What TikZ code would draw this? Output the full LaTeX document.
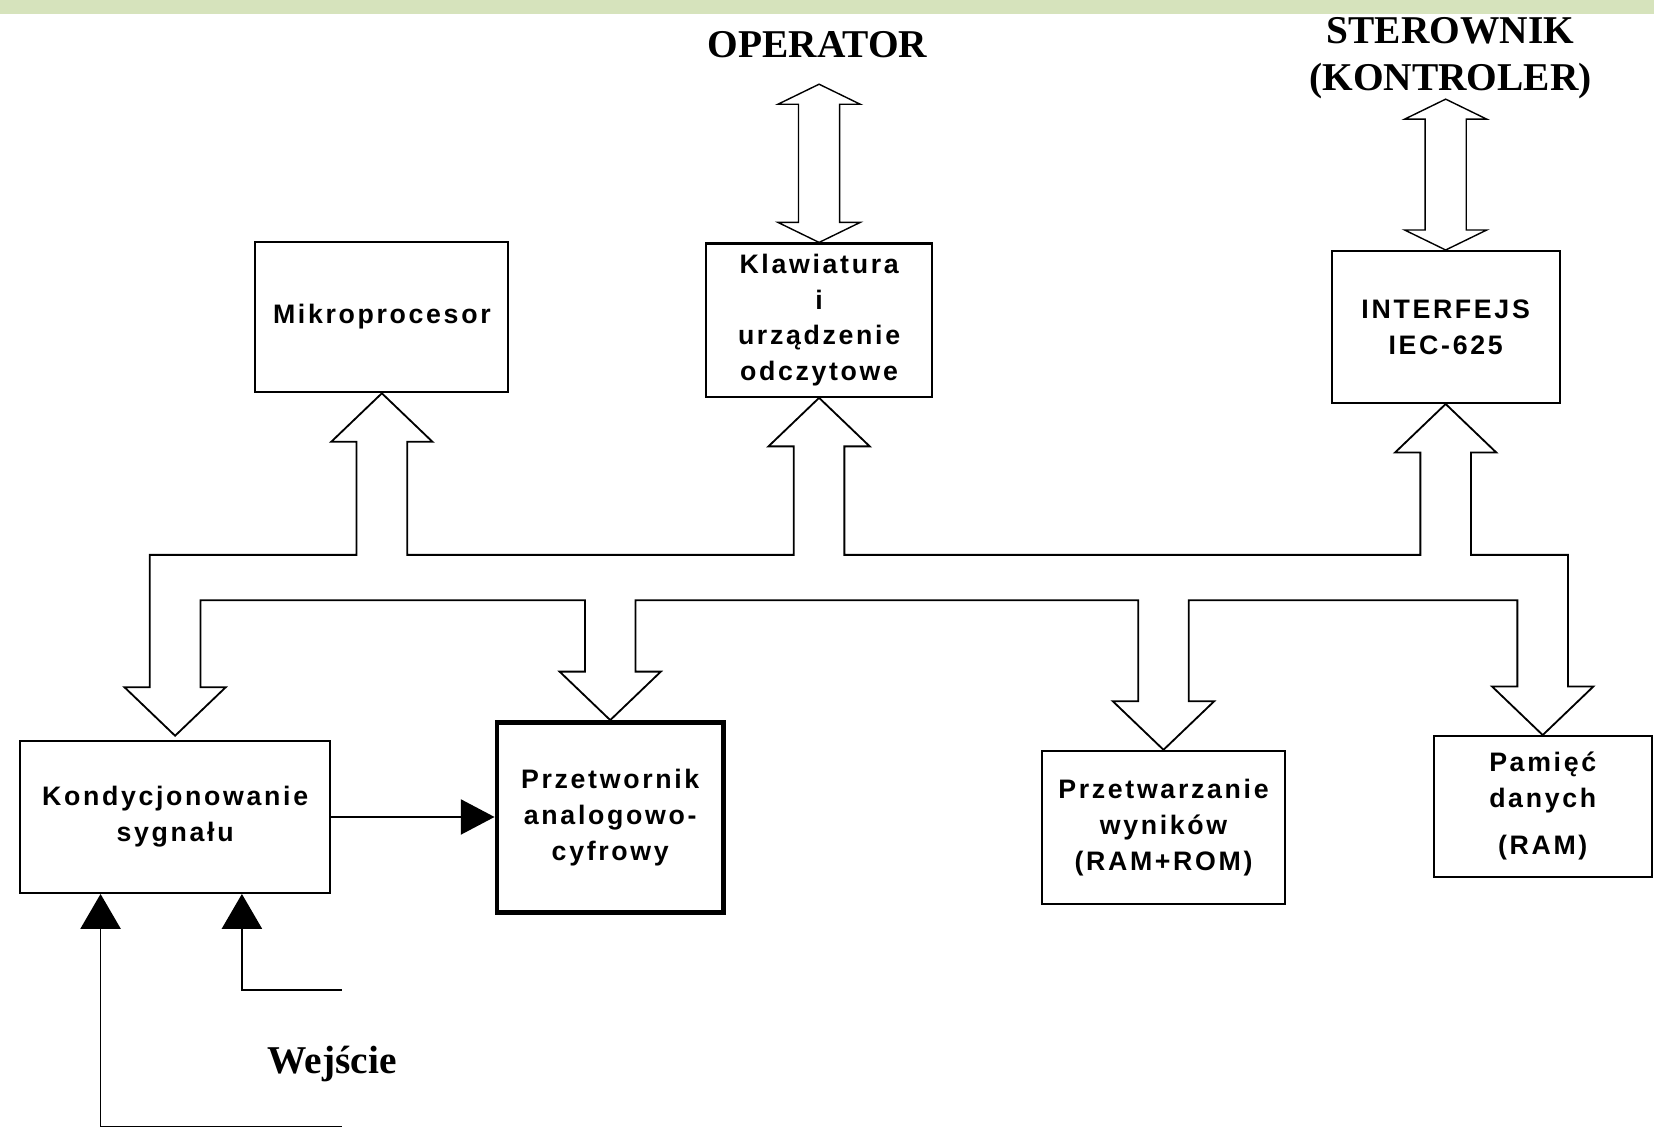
\documentclass[tikz,border=0pt]{standalone}
\usepackage{fontspec}
\usetikzlibrary{calc,arrows.meta}
\newfontfamily\boxfont{Liberation Sans}[LetterSpace=10]
\newfontfamily\titlefont{Liberation Serif}
\definecolor{bandgreen}{RGB}{214,227,188}

\tikzset{
  blok/.style={draw, line width=1.5pt, align=center, inner sep=0pt,
    font=\boxfont\bfseries\fontsize{19}{25.5}\selectfont},
  tytul/.style={align=center, inner sep=0pt,
    font=\titlefont\bfseries\fontsize{28}{33}\selectfont},
  szyna/.style={draw, line width=1.3pt, line join=miter},
  dwustr/.style={draw, line width=1pt, line join=miter},
  wejscie/.style={line width=1.2pt, -{Triangle[length=24.75pt,width=28.5pt]}}
}

% #1 = lower tip, #2 = upper tip
\newcommand{\dblarrow}[2]{%
  \draw[dwustr] (#1) -- ++(39,-19) -- ++(-19.5,0) -- ($(#2)+(19.5,19)$) -- ++(19.5,0) -- (#2)
    -- ++(-39,19) -- ++(19.5,0) -- ($(#1)+(-19.5,-19)$) -- ++(-19.5,0) -- cycle ;}

\begin{document}
\begin{tikzpicture}[x=0.75pt,y=0.75pt,yscale=-1,xscale=1]
\useasboundingbox (0,0) rectangle (1568,1073);
%Shape: band at the top
\fill[bandgreen] (0,0) rectangle (1568,13);

% Text Node
\node[tytul] (oper) at (775,42) {OPERATOR};
\node[tytul] (ster) at (1375,55) {STEROWNIK\\(KONTROLER)};
\node[tytul] (wej) at (315,1009) {Wejście};

%Shape: Rectangle
\node[blok, minimum width=180pt, minimum height=107pt] (mikro) at (362,300.5) {Mikroprocesor};
\node[blok, minimum width=161pt, minimum height=109pt] (klaw) at (776.5,303.5) {Klawiatura\\i\\urządzenie\\odczytowe};
\node[blok, minimum width=162pt, minimum height=108pt] (intf) at (1370.5,310) {INTERFEJS\\IEC-625};
\node[blok, minimum width=220pt, minimum height=108pt] (kond) at (166,774.5) {Kondycjonowanie\\sygnału};
\node[blok, line width=3.5pt, minimum width=161pt, minimum height=135pt] (adc) at (578.5,775) {Przetwornik\\analogowo-\\cyfrowy};
\node[blok, minimum width=173pt, minimum height=109pt] (wyn) at (1103,784.5) {Przetwarzanie\\wyników\\(RAM+ROM)};
\node[blok, minimum width=155pt, minimum height=100pt] (pam) at (1462.5,764.5) {Pamięć\\danych\\[8pt](RAM)};

%Shape: bus (outer and inner edge)
\coordinate (busO) at (0,526);
\coordinate (busI) at (0,569);
\foreach \n in {mikro,klaw,intf} {
  \coordinate (\n-l) at ($(\n.south)+(-24,0)$);
  \coordinate (\n-r) at ($(\n.south)+(24,0)$);
}
\foreach \n in {kond,adc,wyn,pam} {
  \coordinate (\n-l) at ($(\n.north)+(-24,0)$);
  \coordinate (\n-r) at ($(\n.north)+(24,0)$);
}
\coordinate (kondTip) at ($(kond.north)+(0,-4)$);
\draw[szyna] (mikro.south) -- ++(48,46) -- ++(-24,0) -- (mikro-r |- busO) -- (klaw-l |- busO)
  -- ($(klaw-l)+(0,46)$) -- ++(-24,0) -- (klaw.south) -- ++(48,46) -- ++(-24,0)
  -- (klaw-r |- busO) -- (intf-l |- busO)
  -- ($(intf-l)+(0,46)$) -- ++(-24,0) -- (intf.south) -- ++(48,46) -- ++(-24,0)
  -- (intf-r |- busO) -- (pam-r |- busO)
  -- ($(pam-r)+(0,-46)$) -- ++(24,0) -- (pam.north) -- ++(-48,-46) -- ++(24,0)
  -- (pam-l |- busI) -- (wyn-r |- busI)
  -- ($(wyn-r)+(0,-46)$) -- ++(24,0) -- (wyn.north) -- ++(-48,-46) -- ++(24,0)
  -- (wyn-l |- busI) -- (adc-r |- busI)
  -- ($(adc-r)+(0,-46)$) -- ++(24,0) -- (adc.north) -- ++(-48,-46) -- ++(24,0)
  -- (adc-l |- busI) -- (kond-r |- busI)
  -- ($(kondTip)+(24,-46)$) -- ++(24,0) -- (kondTip) -- ++(-48,-46) -- ++(24,0)
  -- (kond-l |- busO) -- (mikro-l |- busO)
  -- ($(mikro-l)+(0,46)$) -- ++(-24,0) -- cycle ;

%Shape: double arrows
\coordinate (operTip) at ($(klaw.north)+(0,-150)$);
\coordinate (sterTip) at ($(intf.north)+(0,-143)$);
\dblarrow{klaw.north}{operTip}
\dblarrow{intf.north}{sterTip}

%Straight Lines
\draw[line width=1.2pt, -{Triangle[length=24pt,width=25pt]}] (kond.east) -- (kond.east -| adc.west);
\coordinate (sig1) at (324,1068);
\coordinate (sig2) at (324,938.6);
\draw[wejscie] (sig1) -| ($(kond.south west)+(77,0)$);
\draw[wejscie] (sig2) -| ($(kond.south west)+(211,0)$);

\end{tikzpicture}
\end{document}
